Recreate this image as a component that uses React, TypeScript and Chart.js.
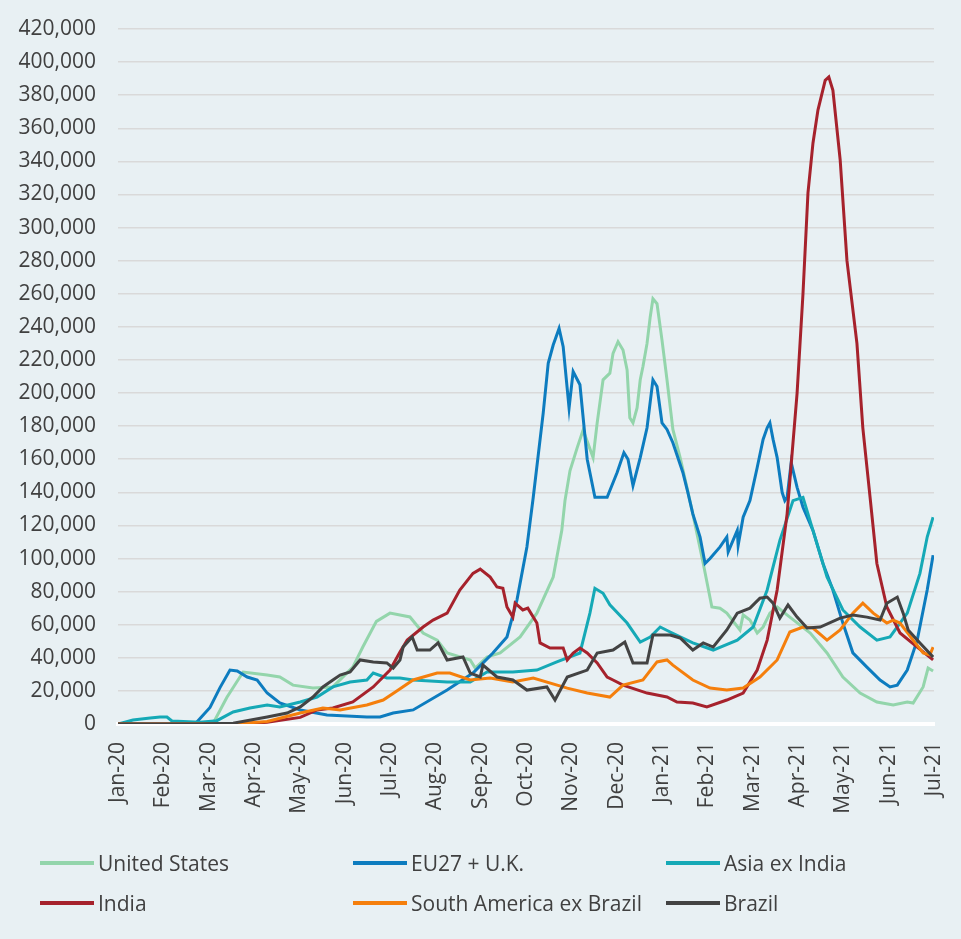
import { useEffect, useRef } from 'react';
import { Chart, registerables } from 'chart.js';

Chart.register(...registerables);

// x values are in months since Jan-20 (0 = Jan-20, 18 = Jul-21)
const months = [
  'Jan-20', 'Feb-20', 'Mar-20', 'Apr-20', 'May-20', 'Jun-20', 'Jul-20', 'Aug-20', 'Sep-20',
  'Oct-20', 'Nov-20', 'Dec-20', 'Jan-21', 'Feb-21', 'Mar-21', 'Apr-21', 'May-21', 'Jun-21', 'Jul-21',
];
const yTicks = Array.from({ length: 22 }, (_, i) => i * 20000);

const usX = [0, 1.8, 2.1, 2.4, 2.76, 3.29, 3.57, 3.86, 4.3, 4.74, 5.18, 5.4, 5.7, 6.0, 6.44, 6.73, 7.04, 7.26, 7.77, 7.88, 8.14, 8.43, 8.87, 9.24, 9.6, 9.79, 9.86, 9.97, 10.13, 10.26, 10.48, 10.57, 10.7, 10.85, 10.92, 11.03, 11.14, 11.23, 11.29, 11.36, 11.45, 11.52, 11.58, 11.67, 11.74, 11.8, 11.89, 12.0, 12.11, 12.24, 12.4, 12.55, 12.68, 12.91, 13.1, 13.28, 13.43, 13.72, 13.79, 13.94, 14.1, 14.23, 14.38, 14.54, 14.8, 15.27, 15.64, 15.99, 16.37, 16.74, 17.1, 17.41, 17.54, 17.76, 17.87, 17.98];
const usY = [0, 0, 500, 16000, 31400, 29600, 28400, 23500, 21700, 22400, 34400, 46500, 62000, 67000, 64700, 55000, 50700, 42900, 38700, 33800, 40500, 42900, 52600, 67000, 88800, 117000, 135000, 153000, 167000, 177600, 161000, 182000, 208000, 212000, 224000, 231000, 226000, 214000, 185000, 182000, 191000, 208000, 216000, 230000, 246000, 257000, 254000, 232000, 208000, 178000, 161000, 143000, 127000, 97000, 70700, 70000, 67000, 56800, 65900, 62800, 55000, 58600, 67000, 70700, 65000, 55000, 42900, 28400, 18700, 13300, 11500, 13300, 12700, 22400, 33800, 32000];

const euX = [0, 1.7, 2.03, 2.25, 2.47, 2.63, 2.85, 3.07, 3.29, 3.57, 4.02, 4.61, 5.49, 5.78, 6.07, 6.51, 7.26, 7.83, 8.27, 8.58, 8.8, 9.02, 9.16, 9.38, 9.49, 9.6, 9.73, 9.82, 9.95, 10.04, 10.19, 10.35, 10.52, 10.79, 11.01, 11.16, 11.25, 11.36, 11.52, 11.67, 11.8, 11.89, 12.0, 12.11, 12.24, 12.46, 12.57, 12.68, 12.84, 12.95, 13.06, 13.28, 13.43, 13.46, 13.66, 13.68, 13.79, 13.94, 14.1, 14.23, 14.32, 14.38, 14.45, 14.54, 14.65, 14.71, 14.76, 14.85, 14.98, 15.11, 15.33, 15.55, 15.77, 15.99, 16.21, 16.52, 16.81, 17.03, 17.19, 17.41, 17.63, 17.85, 17.98];
const euY = [0, 0, 10000, 22000, 32600, 32000, 28400, 26600, 18700, 12700, 8500, 5400, 4200, 4200, 6600, 8500, 20500, 30800, 42900, 52600, 74900, 107000, 137000, 188000, 218000, 229000, 239000, 228000, 191000, 213000, 205000, 160000, 137000, 137000, 152000, 164000, 160000, 144000, 161000, 179000, 208000, 204000, 182000, 178000, 170000, 152000, 140000, 127000, 113000, 97000, 100000, 107000, 113000, 104000, 117000, 108000, 125000, 135000, 155000, 172000, 179000, 182000, 172000, 161000, 140000, 135000, 137000, 158000, 143000, 131000, 117000, 97000, 81000, 61000, 43000, 34400, 26600, 22400, 23500, 32600, 50700, 81000, 102000];

const asiaX = [0, 0.33, 0.71, 0.93, 1.08, 1.19, 1.81, 2.18, 2.54, 2.91, 3.29, 3.57, 4.02, 4.39, 4.74, 5.12, 5.49, 5.63, 5.93, 6.22, 6.51, 7.26, 7.77, 8.14, 8.71, 9.24, 9.68, 10.19, 10.41, 10.52, 10.7, 10.85, 11.23, 11.52, 11.74, 11.96, 12.18, 12.4, 12.68, 13.13, 13.66, 14.01, 14.32, 14.6, 14.89, 15.11, 15.33, 15.64, 15.99, 16.37, 16.74, 17.03, 17.41, 17.69, 17.85, 17.98];
const asiaY = [0, 2400, 3600, 4200, 4200, 1800, 1000, 2000, 7300, 9700, 11500, 10300, 13300, 16300, 22400, 25400, 26600, 30800, 27800, 27800, 26600, 25400, 25400, 31400, 31400, 32600, 37500, 42900, 67000, 82000, 79000, 72000, 61000, 49500, 52600, 58600, 55600, 52600, 49000, 44700, 50700, 58600, 81000, 111000, 135000, 137000, 117000, 88800, 68900, 58600, 50700, 52600, 67000, 91000, 113000, 125000];

const indiaX = [0, 2.54, 3.29, 4.02, 4.39, 4.74, 5.18, 5.63, 6.0, 6.22, 6.38, 6.73, 6.95, 7.26, 7.54, 7.83, 7.99, 8.21, 8.36, 8.49, 8.58, 8.71, 8.76, 8.93, 9.04, 9.24, 9.31, 9.53, 9.82, 9.91, 10.04, 10.19, 10.35, 10.57, 10.79, 10.92, 11.14, 11.67, 12.11, 12.33, 12.68, 12.99, 13.43, 13.79, 14.1, 14.32, 14.54, 14.76, 14.98, 15.11, 15.22, 15.33, 15.44, 15.6, 15.68, 15.77, 15.93, 16.08, 16.3, 16.43, 16.59, 16.74, 16.96, 17.25, 17.63, 17.98];
const indiaY = [0, 0, 1000, 4000, 8500, 9700, 13300, 22400, 32600, 43500, 50700, 58600, 62800, 67000, 81000, 91000, 93600, 88800, 82800, 82000, 70700, 64600, 73000, 68900, 70000, 61000, 49000, 45900, 45900, 38700, 42900, 45900, 42900, 36900, 28400, 26600, 23500, 18700, 16300, 13300, 12700, 10300, 14500, 18700, 32600, 50700, 81000, 127000, 200000, 260000, 321000, 351000, 371000, 389000, 391000, 383000, 341000, 280000, 230000, 179000, 137000, 97000, 70700, 55000, 46500, 38700];

const saX = [0, 2.54, 3.29, 4.02, 4.52, 4.9, 5.49, 5.85, 6.15, 6.51, 7.04, 7.32, 7.77, 8.21, 8.71, 9.16, 9.91, 10.35, 10.85, 11.14, 11.58, 11.89, 12.11, 12.24, 12.68, 13.06, 13.43, 13.79, 14.16, 14.54, 14.82, 15.11, 15.33, 15.64, 15.93, 16.21, 16.43, 16.66, 16.96, 17.1, 17.25, 17.54, 17.76, 17.91, 17.98];
const saY = [0, 0, 1500, 6600, 9700, 8500, 11500, 14500, 20000, 26600, 30800, 30800, 26600, 27800, 25400, 27800, 21700, 18700, 16300, 23500, 26600, 37500, 38700, 35600, 26600, 21700, 20500, 21700, 28400, 38700, 55600, 58600, 58000, 50700, 56800, 67000, 73000, 67000, 61000, 62800, 61000, 50700, 43000, 41700, 46500];

const brX = [0, 1.81, 2.54, 3.29, 3.73, 4.02, 4.3, 4.52, 4.74, 4.9, 5.12, 5.34, 5.63, 5.93, 6.07, 6.22, 6.29, 6.49, 6.6, 6.88, 7.06, 7.26, 7.61, 7.77, 7.99, 8.05, 8.36, 8.71, 9.02, 9.46, 9.64, 9.91, 10.35, 10.57, 10.92, 11.18, 11.36, 11.67, 11.8, 12.18, 12.4, 12.68, 12.91, 13.13, 13.43, 13.66, 13.94, 14.16, 14.32, 14.45, 14.6, 14.78, 14.98, 15.2, 15.49, 15.93, 16.21, 16.52, 16.81, 16.96, 17.19, 17.32, 17.43, 17.69, 17.98];
const brY = [0, 0, 500, 4200, 6600, 10300, 16300, 22400, 26600, 29600, 31400, 38700, 37500, 36900, 33800, 38700, 46500, 52600, 44700, 44700, 49000, 38700, 40500, 30800, 28400, 35600, 28400, 26600, 20500, 22400, 14500, 28400, 32600, 42900, 44700, 49500, 36900, 36900, 53800, 53800, 52000, 44700, 49000, 46500, 56800, 67000, 70000, 76000, 76700, 73000, 64000, 71900, 64600, 58000, 58600, 64000, 65900, 64600, 62800, 73000, 76700, 67000, 56800, 49000, 40500];

const seriesLabels = ['United States', 'EU27 + U.K.', 'Asia ex India', 'India', 'South America ex Brazil', 'Brazil'];
const seriesColors = ['#93d5ab', '#0d7cbf', '#15a9b6', '#a6222c', '#f57f0c', '#434343'];
const seriesX = [usX, euX, asiaX, indiaX, saX, brX];
const seriesY = [usY, euY, asiaY, indiaY, saY, brY];

const TEXT = '#404040';
const FONT = '"Open Sans", "DejaVu Sans", sans-serif';
const BG = '#e8f0f3';

export default function App() {
  const ref = useRef<HTMLCanvasElement>(null);

  useEffect(() => {
    document.body.style.margin = '0';
    document.body.style.background = BG;
    const canvas = ref.current;
    if (!canvas) return;
    const chart = new Chart(canvas, {
      type: 'line',
      data: {
        datasets: seriesLabels.map((label, i) => ({
          label,
          data: seriesX[i].map((x, j) => ({ x, y: seriesY[i][j] })),
          borderColor: seriesColors[i],
          backgroundColor: seriesColors[i],
          borderWidth: 3,
          pointRadius: 0,
          tension: 0,
          fill: false,
          order: seriesLabels.length - i,
        })),
      },
      options: {
        animation: false,
        responsive: false,
        maintainAspectRatio: false,
        layout: { padding: { top: 29, right: 27, left: 0, bottom: 0 } },
        plugins: { legend: { display: false }, tooltip: { enabled: false } },
        scales: {
          x: {
            type: 'linear',
            min: 0,
            max: months.length - 1,
            afterBuildTicks: (s: any) => {
              s.ticks = months.map((_, i) => ({ value: i }));
            },
            afterFit: (s: any) => {
              s.height = 215;
              s.paddingLeft = 0;
              s.paddingRight = 0;
            },
            grid: { display: false },
            border: { color: '#ffffff', width: 4 },
            ticks: {
              autoSkip: false,
              minRotation: 90,
              maxRotation: 90,
              padding: 10,
              color: TEXT,
              font: { family: FONT, size: 21 },
              callback: (v: any) => months[Math.round(Number(v))],
            },
          },
          y: {
            type: 'linear',
            min: 0,
            max: 420000,
            afterBuildTicks: (s: any) => {
              s.ticks = yTicks.map((v) => ({ value: v }));
            },
            afterFit: (s: any) => {
              s.width = 118;
              s.paddingTop = 0;
              s.paddingBottom = 0;
            },
            grid: { color: '#d9d9d9', lineWidth: 1.5, drawTicks: false },
            border: { display: false },
            ticks: {
              padding: 22,
              color: TEXT,
              font: { family: FONT, size: 21 },
              callback: (v: any) => Number(v).toLocaleString('en-US'),
            },
          },
        },
      },
    });
    return () => chart.destroy();
  }, []);

  const colLeft = [40, 353, 666];
  const rowCenter = [863, 903];

  return (
    <div style={{ position: 'relative', width: 961, height: 939, background: BG, overflow: 'hidden' }}>
      <canvas ref={ref} width={961} height={939} style={{ display: 'block' }} />
      {seriesLabels.map((label, i) => (
        <div
          key={label}
          style={{
            position: 'absolute',
            left: colLeft[i % 3],
            top: rowCenter[Math.floor(i / 3)] - 15,
            height: 30,
            display: 'flex',
            alignItems: 'center',
            fontFamily: FONT,
            fontSize: 21,
            color: TEXT,
            whiteSpace: 'nowrap',
          }}
        >
          <span style={{ display: 'inline-block', width: 54, height: 4, background: seriesColors[i], marginRight: 4 }} />
          <span>{label}</span>
        </div>
      ))}
    </div>
  );
}
